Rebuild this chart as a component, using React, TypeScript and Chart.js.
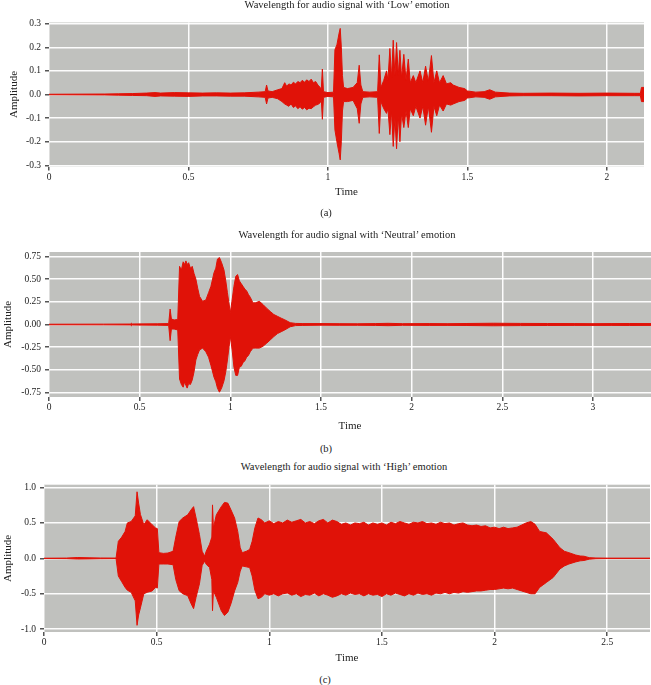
import React, { useEffect, useRef } from "react";
import { Chart, registerables } from "chart.js";

Chart.register(...registerables);

const RED = "rgb(224,18,8)";
const GRAY = "rgb(192,193,190)";
const FONT = "'Liberation Serif', 'DejaVu Serif', serif";

// Each row: [time (s), upper envelope, lower envelope]

// ---------- Panel (a): 'Low' emotion ----------
const lowTitle = "Wavelength for audio signal with ‘Low’ emotion";
const lowWave: number[][] = [
  [0, 0.001, -0.001], [0.2, 0.002, -0.002], [0.25, 0.003, -0.003], [0.3, 0.004, -0.004],
  [0.35, 0.006, -0.005], [0.38, 0.008, -0.008], [0.4, 0.006, -0.006], [0.45, 0.008, -0.007],
  [0.5, 0.007, -0.008], [0.55, 0.006, -0.006], [0.6, 0.007, -0.006], [0.65, 0.006, -0.007],
  [0.7, 0.007, -0.007], [0.75, 0.01, -0.01], [0.775, 0.012, -0.012], [0.78, 0.04, -0.04],
  [0.785, 0.015, -0.015], [0.8, 0.012, -0.012], [0.82, 0.02, -0.018], [0.835, 0.025, -0.03],
  [0.845, 0.05, -0.04], [0.852, 0.035, -0.045], [0.86, 0.045, -0.05], [0.868, 0.04, -0.04],
  [0.876, 0.052, -0.055], [0.884, 0.045, -0.048], [0.892, 0.055, -0.06], [0.9, 0.05, -0.052],
  [0.908, 0.06, -0.062], [0.916, 0.052, -0.055], [0.924, 0.062, -0.065], [0.932, 0.055, -0.058],
  [0.94, 0.065, -0.06], [0.948, 0.05, -0.052], [0.956, 0.055, -0.045], [0.964, 0.04, -0.042],
  [0.972, 0.03, -0.035], [0.976, 0.02, -0.02], [0.98, 0.108, -0.105], [0.984, 0.012, -0.012],
  [1.0, 0.008, -0.008], [1.02, 0.01, -0.01], [1.025, 0.19, -0.15], [1.032, 0.21, -0.2],
  [1.04, 0.26, -0.25], [1.044, 0.28, -0.277], [1.048, 0.2, -0.2], [1.052, 0.08, -0.07],
  [1.056, 0.03, -0.03], [1.07, 0.025, -0.03], [1.09, 0.03, -0.025], [1.105, 0.05, -0.06],
  [1.112, 0.124, -0.122], [1.118, 0.04, -0.04], [1.125, 0.012, -0.012], [1.15, 0.01, -0.01],
  [1.178, 0.012, -0.012], [1.184, 0.168, -0.165], [1.19, 0.03, -0.03], [1.2, 0.06, -0.06],
  [1.21, 0.1, -0.08], [1.215, 0.06, -0.06], [1.222, 0.195, -0.17], [1.228, 0.07, -0.07],
  [1.234, 0.23, -0.22], [1.24, 0.08, -0.1], [1.246, 0.22, -0.23], [1.252, 0.08, -0.09],
  [1.258, 0.187, -0.2], [1.264, 0.07, -0.08], [1.272, 0.17, -0.14], [1.28, 0.06, -0.07],
  [1.288, 0.15, -0.14], [1.295, 0.05, -0.06], [1.306, 0.08, -0.09], [1.315, 0.05, -0.05],
  [1.33, 0.1, -0.1], [1.34, 0.05, -0.05], [1.35, 0.12, -0.13], [1.36, 0.055, -0.05],
  [1.371, 0.165, -0.16], [1.38, 0.05, -0.05], [1.39, 0.1, -0.09], [1.4, 0.05, -0.045],
  [1.413, 0.08, -0.07], [1.425, 0.045, -0.04], [1.44, 0.05, -0.045], [1.449, 0.04, -0.04],
  [1.47, 0.03, -0.03], [1.49, 0.025, -0.025], [1.5, 0.015, -0.015], [1.53, 0.01, -0.01],
  [1.56, 0.012, -0.012], [1.58, 0.02, -0.02], [1.6, 0.01, -0.01], [1.65, 0.006, -0.006],
  [1.7, 0.005, -0.005], [1.8, 0.006, -0.005], [1.9, 0.005, -0.006], [2.0, 0.006, -0.005],
  [2.1, 0.005, -0.005], [2.12, 0.005, -0.005], [2.124, 0.03, -0.03], [2.133, 0.03, -0.03],
];
const lowXTicks = [0, 0.5, 1, 1.5, 2];
const lowYTicks = [-0.3, -0.2, -0.1, 0, 0.1, 0.2, 0.3];

// ---------- Panel (b): 'Neutral' emotion ----------
const neuTitle = "Wavelength for audio signal with ‘Neutral’ emotion";
const neuWave: number[][] = [
  [0, 0.003, -0.003], [0.3, 0.004, -0.004], [0.45, 0.005, -0.005], [0.455, 0.015, -0.015],
  [0.46, 0.006, -0.006], [0.6, 0.008, -0.008], [0.66, 0.01, -0.01], [0.668, 0.17, -0.178],
  [0.675, 0.06, -0.05], [0.69, 0.05, -0.05], [0.71, 0.055, -0.06], [0.72, 0.64, -0.6],
  [0.73, 0.6, -0.66], [0.74, 0.69, -0.69], [0.748, 0.66, -0.63], [0.755, 0.7, -0.67],
  [0.762, 0.66, -0.7], [0.77, 0.68, -0.65], [0.78, 0.62, -0.66], [0.79, 0.64, -0.61],
  [0.8, 0.56, -0.52], [0.81, 0.5, -0.39], [0.82, 0.4, -0.33], [0.83, 0.31, -0.28],
  [0.847, 0.255, -0.26], [0.865, 0.27, -0.3], [0.88, 0.35, -0.36], [0.893, 0.42, -0.45],
  [0.91, 0.57, -0.58], [0.92, 0.62, -0.63], [0.929, 0.72, -0.7], [0.94, 0.737, -0.745],
  [0.952, 0.68, -0.7], [0.965, 0.6, -0.62], [0.975, 0.48, -0.52], [0.984, 0.35, -0.39],
  [1.0, 0.13, -0.13], [1.01, 0.27, -0.28], [1.02, 0.42, -0.47], [1.03, 0.53, -0.56],
  [1.04, 0.55, -0.56], [1.05, 0.48, -0.47], [1.06, 0.45, -0.46], [1.07, 0.42, -0.42],
  [1.08, 0.39, -0.4], [1.09, 0.37, -0.36], [1.1, 0.33, -0.34], [1.11, 0.3, -0.3],
  [1.125, 0.237, -0.26], [1.14, 0.24, -0.26], [1.16, 0.255, -0.26], [1.18, 0.22, -0.24],
  [1.2, 0.18, -0.207], [1.22, 0.144, -0.17], [1.24, 0.11, -0.133], [1.26, 0.09, -0.1],
  [1.28, 0.07, -0.08], [1.3, 0.052, -0.06], [1.33, 0.02, -0.025], [1.36, 0.012, -0.012],
  [1.4, 0.01, -0.01], [1.5, 0.01, -0.008], [1.6, 0.009, -0.009], [1.7, 0.008, -0.009],
  [1.8, 0.01, -0.01], [1.87, 0.013, -0.013], [1.95, 0.009, -0.009], [2.1, 0.01, -0.01],
  [2.2, 0.009, -0.01], [2.3, 0.011, -0.011], [2.45, 0.014, -0.014], [2.6, 0.012, -0.012],
  [2.75, 0.011, -0.011], [2.9, 0.01, -0.01], [3.0, 0.009, -0.01], [3.1, 0.01, -0.01],
  [3.2, 0.011, -0.011], [3.32, 0.01, -0.01],
];
const neuXTicks = [0, 0.5, 1, 1.5, 2, 2.5, 3];
const neuYTicks = [-0.75, -0.5, -0.25, 0, 0.25, 0.5, 0.75];

// ---------- Panel (c): 'High' emotion ----------
const highTitle = "Wavelength for audio signal with ‘High’ emotion";
const highWave: number[][] = [
  [0, 0.002, -0.002], [0.1, 0.004, -0.004], [0.15, 0.012, -0.01], [0.2, 0.008, -0.008],
  [0.25, 0.005, -0.005], [0.32, 0.004, -0.004], [0.33, 0.24, -0.25], [0.345, 0.3, -0.33],
  [0.36, 0.38, -0.41], [0.37, 0.5, -0.45], [0.387, 0.52, -0.48], [0.405, 0.6, -0.6],
  [0.413, 0.94, -0.946], [0.42, 0.78, -0.8], [0.428, 0.62, -0.7], [0.443, 0.475, -0.5],
  [0.458, 0.545, -0.48], [0.48, 0.475, -0.46], [0.495, 0.43, -0.41], [0.503, 0.42, -0.42],
  [0.51, 0.08, -0.08], [0.53, 0.07, -0.08], [0.55, 0.075, -0.08], [0.573, 0.1, -0.09],
  [0.585, 0.3, -0.3], [0.6, 0.52, -0.457], [0.616, 0.57, -0.5], [0.638, 0.615, -0.527],
  [0.653, 0.685, -0.64], [0.664, 0.73, -0.71], [0.675, 0.57, -0.55], [0.69, 0.336, -0.36],
  [0.702, 0.1, -0.1], [0.713, 0.03, -0.04], [0.72, 0.1, -0.084], [0.735, 0.2, -0.13],
  [0.745, 0.3, -0.3], [0.748, 0.755, -0.74], [0.752, 0.43, -0.46], [0.765, 0.615, -0.55],
  [0.787, 0.73, -0.74], [0.801, 0.79, -0.807], [0.816, 0.78, -0.76], [0.83, 0.685, -0.64],
  [0.846, 0.57, -0.46], [0.86, 0.38, -0.34], [0.871, 0.15, -0.18], [0.88, 0.08, -0.107],
  [0.898, 0.1, -0.12], [0.913, 0.126, -0.13], [0.924, 0.24, -0.25], [0.936, 0.43, -0.45],
  [0.95, 0.57, -0.57], [0.965, 0.545, -0.55], [0.98, 0.5, -0.5], [1.0, 0.53, -0.52],
  [1.02, 0.49, -0.5], [1.04, 0.52, -0.53], [1.06, 0.5, -0.5], [1.08, 0.54, -0.49],
  [1.1, 0.51, -0.52], [1.12, 0.53, -0.5], [1.14, 0.55, -0.54], [1.16, 0.5, -0.51],
  [1.18, 0.52, -0.52], [1.2, 0.49, -0.49], [1.22, 0.53, -0.53], [1.24, 0.55, -0.5],
  [1.26, 0.5, -0.52], [1.28, 0.54, -0.55], [1.3, 0.52, -0.53], [1.32, 0.48, -0.5],
  [1.34, 0.5, -0.52], [1.36, 0.47, -0.49], [1.38, 0.5, -0.51], [1.4, 0.49, -0.5],
  [1.42, 0.51, -0.53], [1.44, 0.47, -0.5], [1.46, 0.5, -0.52], [1.48, 0.48, -0.51],
  [1.5, 0.5, -0.54], [1.52, 0.47, -0.5], [1.54, 0.51, -0.52], [1.56, 0.49, -0.49],
  [1.58, 0.52, -0.51], [1.6, 0.5, -0.53], [1.62, 0.48, -0.5], [1.64, 0.51, -0.52],
  [1.66, 0.5, -0.49], [1.68, 0.52, -0.51], [1.7, 0.49, -0.5], [1.72, 0.5, -0.52],
  [1.74, 0.48, -0.49], [1.76, 0.51, -0.5], [1.78, 0.49, -0.48], [1.8, 0.5, -0.5],
  [1.82, 0.47, -0.48], [1.84, 0.49, -0.49], [1.86, 0.5, -0.47], [1.88, 0.47, -0.48],
  [1.9, 0.46, -0.47], [1.92, 0.47, -0.46], [1.94, 0.45, -0.46], [1.96, 0.46, -0.45],
  [1.98, 0.43, -0.44], [2.0, 0.44, -0.44], [2.02, 0.42, -0.43], [2.04, 0.44, -0.42],
  [2.06, 0.42, -0.43], [2.08, 0.43, -0.42], [2.1, 0.44, -0.44], [2.12, 0.47, -0.46],
  [2.14, 0.5, -0.48], [2.161, 0.52, -0.5], [2.18, 0.48, -0.5], [2.2, 0.38, -0.41],
  [2.23, 0.36, -0.34], [2.26, 0.27, -0.27], [2.29, 0.15, -0.15], [2.31, 0.1, -0.107],
  [2.33, 0.08, -0.08], [2.36, 0.047, -0.05], [2.38, 0.033, -0.035], [2.397, 0.03, -0.03],
  [2.42, 0.01, -0.012], [2.45, 0.005, -0.005], [2.5, 0.003, -0.003], [2.69, 0.003, -0.003],
];
const highXTicks = [0, 0.5, 1, 1.5, 2, 2.5];
const highYTicks = [-1, -0.5, 0, 0.5, 1];

const bgPlugin = {
  id: "plotBg",
  beforeDraw(chart: any) {
    const { ctx, chartArea } = chart;
    if (!chartArea) return;
    ctx.save();
    ctx.fillStyle = GRAY;
    ctx.fillRect(chartArea.left, chartArea.top, chartArea.width, chartArea.height);
    ctx.restore();
  },
};

type PanelProps = {
  top: number;
  height: number;
  wave: number[][];
  xMax: number;
  yLim: number;
  xTicks: number[];
  yTicks: number[];
  yDigits: number;
  padTop: number;
  padRight: number;
  yWidth: number;
  xHeight: number;
  timePadBottom: number;
  ampPad: number;
};

function WavePanel(p: PanelProps) {
  const ref = useRef<HTMLCanvasElement | null>(null);
  useEffect(() => {
    if (!ref.current) return;
    const tickFont = { family: FONT, size: 9.5 };
    const titleFont = { family: FONT, size: 11 };
    const chart = new Chart(ref.current, {
      type: "line",
      data: {
        datasets: [
          {
            data: p.wave.map((r) => ({ x: r[0], y: r[1] })),
            borderColor: RED,
            backgroundColor: RED,
            borderWidth: 1,
            pointRadius: 0,
            tension: 0,
            fill: "+1",
          },
          {
            data: p.wave.map((r) => ({ x: r[0], y: r[2] })),
            borderColor: RED,
            backgroundColor: RED,
            borderWidth: 1,
            pointRadius: 0,
            tension: 0,
            fill: false,
          },
        ],
      },
      options: {
        animation: false,
        responsive: false,
        events: [],
        layout: { padding: { top: p.padTop, right: p.padRight, left: 0, bottom: 0 } },
        plugins: {
          legend: { display: false },
          tooltip: { enabled: false },
          title: { display: false },
        },
        scales: {
          x: {
            type: "linear",
            min: 0,
            max: p.xMax,
            afterBuildTicks: (s: any) => {
              s.ticks = p.xTicks.map((v) => ({ value: v }));
            },
            afterFit: (s: any) => {
              s.height = p.xHeight;
            },
            grid: { color: "rgba(255,255,255,0.95)", lineWidth: 1.5, tickColor: "#555", tickLength: 4 },
            border: { display: false },
            ticks: {
              font: tickFont,
              color: "#222",
              padding: 1,
              maxRotation: 0,
              autoSkip: false,
              callback: (v: any) => String(v),
            },
            title: {
              display: true,
              text: "Time",
              font: titleFont,
              color: "#222",
              padding: { top: 0, bottom: p.timePadBottom },
            },
          },
          y: {
            type: "linear",
            min: -p.yLim,
            max: p.yLim,
            afterBuildTicks: (s: any) => {
              s.ticks = p.yTicks.map((v) => ({ value: v }));
            },
            afterFit: (s: any) => {
              s.width = p.yWidth;
            },
            grid: { color: "rgba(255,255,255,0.95)", lineWidth: 1.5, tickColor: "#555", tickLength: 4 },
            border: { display: false },
            ticks: {
              font: tickFont,
              color: "#222",
              padding: 4,
              autoSkip: false,
              callback: (v: any) => Number(v).toFixed(p.yDigits),
            },
            title: {
              display: true,
              text: "Amplitude",
              font: titleFont,
              color: "#222",
              padding: { top: p.ampPad, bottom: 0 },
            },
          },
        },
      },
      plugins: [bgPlugin],
    } as any);
    return () => chart.destroy();
  }, []);
  return (
    <canvas
      ref={ref}
      width={651}
      height={p.height}
      style={{ position: "absolute", left: 0, top: p.top, width: 651, height: p.height }}
    />
  );
}

function Label({ text, cx, cy, size }: { text: string; cx: number; cy: number; size: number }) {
  return (
    <div
      style={{
        position: "absolute",
        left: cx - 200,
        width: 400,
        top: cy - 8,
        height: 16,
        lineHeight: "16px",
        textAlign: "center",
        fontFamily: FONT,
        fontSize: size,
        color: "#222",
        whiteSpace: "nowrap",
      }}
    >
      {text}
    </div>
  );
}

export default function App() {
  return (
    <div style={{ position: "absolute", left: 0, top: 0, width: 651, height: 685, background: "#fff", overflow: "hidden" }}>
      <WavePanel
        top={0}
        height={205}
        wave={lowWave}
        xMax={2.133}
        yLim={0.305}
        xTicks={lowXTicks}
        yTicks={lowYTicks}
        yDigits={1}
        padTop={22.5}
        padRight={7}
        yWidth={49}
        xHeight={38.5}
        timePadBottom={6.4}
        ampPad={7.2}
      />
      <WavePanel
        top={220}
        height={220}
        wave={neuWave}
        xMax={3.32}
        yLim={0.798}
        xTicks={neuXTicks}
        yTicks={neuYTicks}
        yDigits={2}
        padTop={32}
        padRight={0}
        yWidth={49}
        xHeight={43}
        timePadBottom={7.4}
        ampPad={1.7}
      />
      <WavePanel
        top={475}
        height={195}
        wave={highWave}
        xMax={2.69}
        yLim={1.04}
        xTicks={highXTicks}
        yTicks={highYTicks}
        yDigits={1}
        padTop={8}
        padRight={1}
        yWidth={44}
        xHeight={38}
        timePadBottom={5.4}
        ampPad={1.7}
      />
      <Label text={lowTitle} cx={347} cy={5} size={10.5} />
      <Label text="(a)" cx={326} cy={213} size={10.5} />
      <Label text={neuTitle} cx={347} cy={235} size={10.5} />
      <Label text="(b)" cx={326} cy={449} size={10.5} />
      <Label text={highTitle} cx={344} cy={467} size={10.5} />
      <Label text="(c)" cx={325} cy={680} size={10.5} />
    </div>
  );
}
